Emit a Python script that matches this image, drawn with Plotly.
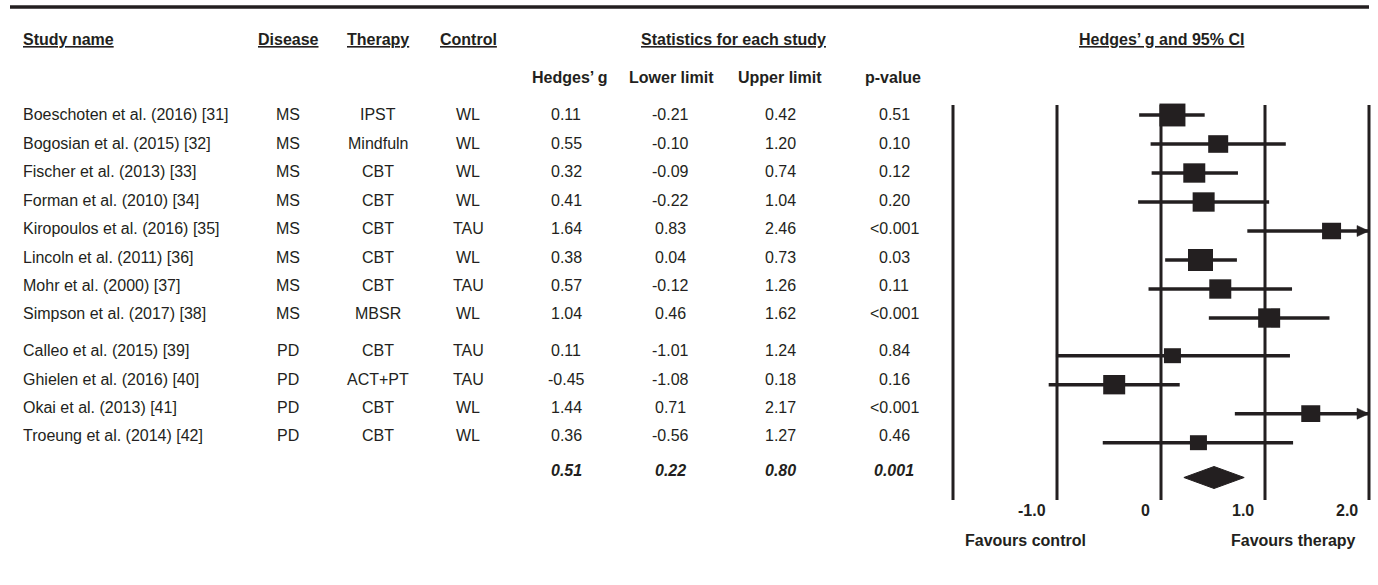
import plotly.graph_objects as go

# ---- study-level data -------------------------------------------------------
studies = [
    "Boeschoten et al. (2016) [31]",
    "Bogosian et al. (2015) [32]",
    "Fischer et al. (2013) [33]",
    "Forman et al. (2010) [34]",
    "Kiropoulos et al. (2016) [35]",
    "Lincoln et al. (2011) [36]",
    "Mohr et al. (2000) [37]",
    "Simpson et al. (2017) [38]",
    "Calleo et al. (2015) [39]",
    "Ghielen et al. (2016) [40]",
    "Okai et al. (2013) [41]",
    "Troeung et al. (2014) [42]",
]
disease = ["MS", "MS", "MS", "MS", "MS", "MS", "MS", "MS", "PD", "PD", "PD", "PD"]
therapy = ["IPST", "Mindfuln", "CBT", "CBT", "CBT", "CBT", "CBT", "MBSR",
           "CBT", "ACT+PT", "CBT", "CBT"]
control = ["WL", "WL", "WL", "WL", "TAU", "WL", "TAU", "WL", "TAU", "TAU", "WL", "WL"]
hedges_g = [0.11, 0.55, 0.32, 0.41, 1.64, 0.38, 0.57, 1.04, 0.11, -0.45, 1.44, 0.36]
lower_limit = [-0.21, -0.10, -0.09, -0.22, 0.83, 0.04, -0.12, 0.46, -1.01, -1.08, 0.71, -0.56]
upper_limit = [0.42, 1.20, 0.74, 1.04, 2.46, 0.73, 1.26, 1.62, 1.24, 0.18, 2.17, 1.27]
p_values = ["0.51", "0.10", "0.12", "0.20", "<0.001", "0.03", "0.11", "<0.001",
            "0.84", "0.16", "<0.001", "0.46"]

# pooled estimate
pooled_g = 0.51
pooled_lower = 0.22
pooled_upper = 0.80
pooled_p = "0.001"

# forest axis
grid_values = [-2, -1, 0, 1, 2]
tick_values = [-1, 0, 1, 2]
tick_labels = ["-1.0", "0", "1.0", "2.0"]

# ---- styling ----------------------------------------------------------------
W, H = 1378, 585
INK = "#231f20"
FONT = "Liberation Sans, Arial, Helvetica, sans-serif"
FS = 16

box_px = [26, 20, 22, 22, 19, 25, 22, 22, 17, 22, 19, 17]   # marker width per study (weight)
BOX_ASPECT = 0.88

X_LO, X_HI = -2.08, 2.08
UNIT_PX = 104.0            # pixels per unit of Hedges' g
ZERO_PX = 1161.0
AXIS_MAX = grid_values[-1]

ROW0_PX = 115.0            # first study row (pixel from top)
PLOT_PITCH = 29.0          # row pitch inside the forest panel
TEXT_PITCH = 28.4          # row pitch of the table text
GROUP_GAP = 0.3            # extra rows between disease groups
SUMMARY_GAP = 1.2


def paper_y(px):
    return 1 - px / H


def paper_x(px):
    return px / W


# row slots (group gap inserted where the disease changes)
slots = []
s = 0.0
for i, d in enumerate(disease):
    if i > 0:
        s += 1.0 + (GROUP_GAP if d != disease[i - 1] else 0.0)
    slots.append(s)
summary_slot = slots[-1] + SUMMARY_GAP


def slot_from_px(px):
    return (px - ROW0_PX) / PLOT_PITCH


def text_px(slot):
    return ROW0_PX + slot * TEXT_PITCH


fig = go.Figure()

# confidence-interval whiskers
ci_x, ci_y = [], []
for lo, up, sl in zip(lower_limit, upper_limit, slots):
    ci_x += [max(lo, -AXIS_MAX), min(up, AXIS_MAX), None]
    ci_y += [sl, sl, None]
fig.add_trace(go.Scatter(x=ci_x, y=ci_y, mode="lines",
                         line=dict(color=INK, width=3.5), hoverinfo="skip",
                         showlegend=False))

# arrowheads for intervals running past the axis limit
arr_len = 12 / UNIT_PX
arr_half = 5.5 / PLOT_PITCH
for up, sl in zip(upper_limit, slots):
    if up > AXIS_MAX:
        fig.add_trace(go.Scatter(
            x=[AXIS_MAX - arr_len, AXIS_MAX, AXIS_MAX - arr_len, AXIS_MAX - arr_len],
            y=[sl - arr_half, sl, sl + arr_half, sl - arr_half],
            mode="lines", fill="toself", fillcolor=INK,
            line=dict(color=INK, width=0.5), hoverinfo="skip", showlegend=False))

# pooled diamond
dh = 11 / PLOT_PITCH
fig.add_trace(go.Scatter(
    x=[pooled_lower, pooled_g, pooled_upper, pooled_g, pooled_lower],
    y=[summary_slot, summary_slot - dh, summary_slot, summary_slot + dh, summary_slot],
    mode="lines", fill="toself", fillcolor=INK,
    line=dict(color=INK, width=1), hoverinfo="skip", showlegend=False))

shapes = []
# vertical reference lines
for v in grid_values:
    shapes.append(dict(type="line", xref="x", yref="y", x0=v, x1=v,
                       y0=slot_from_px(105), y1=slot_from_px(500),
                       line=dict(color=INK, width=3), layer="below"))

# weighted squares for the point estimates
for g, sl, w in zip(hedges_g, slots, box_px):
    hw = w / 2 / UNIT_PX
    hh = w * BOX_ASPECT / 2 / PLOT_PITCH
    shapes.append(dict(type="rect", xref="x", yref="y",
                       x0=g - hw, x1=g + hw, y0=sl - hh, y1=sl + hh,
                       fillcolor=INK, line=dict(width=0), layer="above"))

# rule across the top
shapes.append(dict(type="line", xref="paper", yref="paper",
                   x0=paper_x(10), x1=paper_x(1369), y0=paper_y(7), y1=paper_y(7),
                   line=dict(color=INK, width=3.5)))

annotations = []


def txt(text, x_px, y_px, anchor="center", size=FS):
    annotations.append(dict(text=text, x=paper_x(x_px), y=paper_y(y_px),
                            xref="paper", yref="paper", xanchor=anchor,
                            yanchor="middle", showarrow=False,
                            font=dict(family=FONT, size=size, color=INK)))


# column positions (pixels)
COL_NAME = 21
COL_DIS, COL_THER, COL_CTRL = 288, 378, 468
COL_G, COL_LO, COL_UP, COL_P = 566, 670, 780, 894

# headers
txt("<b><u>Study name</u></b>", COL_NAME, 40, "left")
txt("<b><u>Disease</u></b>", COL_DIS, 40)
txt("<b><u>Therapy</u></b>", COL_THER, 40)
txt("<b><u>Control</u></b>", COL_CTRL, 40)
txt("<b><u>Statistics for each study</u></b>", 733, 40)
txt("<b><u>Hedges’ g and 95% CI</u></b>", 1161, 40)
txt("<b>Hedges’ g</b>", 570, 78)
txt("<b>Lower limit</b>", 671, 78)
txt("<b>Upper limit</b>", 780, 78)
txt("<b>p-value</b>", 893, 78)

# study rows
for i, sl in enumerate(slots):
    y = text_px(sl)
    txt(studies[i], COL_NAME, y, "left")
    txt(disease[i], COL_DIS, y)
    txt(therapy[i], COL_THER, y)
    txt(control[i], COL_CTRL, y)
    txt(f"{hedges_g[i]:.2f}", COL_G, y)
    txt(f"{lower_limit[i]:.2f}", COL_LO, y)
    txt(f"{upper_limit[i]:.2f}", COL_UP, y)
    txt(p_values[i], COL_P, y)

# pooled row
ys = text_px(summary_slot)
txt(f"<b><i>{pooled_g:.2f}</i></b>", COL_G, ys)
txt(f"<b><i>{pooled_lower:.2f}</i></b>", COL_LO, ys)
txt(f"<b><i>{pooled_upper:.2f}</i></b>", COL_UP, ys)
txt(f"<b><i>{pooled_p}</i></b>", COL_P, ys)

# forest axis tick labels, set just left of each reference line
for v, lab in zip(tick_values, tick_labels):
    annotations.append(dict(text=f"<b>{lab}</b>", x=v, y=paper_y(510),
                            xref="x", yref="paper", xanchor="right", yanchor="middle",
                            xshift=-9, showarrow=False,
                            font=dict(family=FONT, size=FS, color=INK)))

txt("<b>Favours control</b>", 963, 540, "left")
txt("<b>Favours therapy</b>", 1358, 540, "right")

x_dom = [(ZERO_PX + X_LO * UNIT_PX) / W, (ZERO_PX + X_HI * UNIT_PX) / W]

fig.update_layout(
    width=W, height=H,
    margin=dict(l=0, r=0, t=0, b=0),
    paper_bgcolor="white", plot_bgcolor="rgba(0,0,0,0)",
    xaxis=dict(domain=x_dom, range=[X_LO, X_HI], visible=False, fixedrange=True),
    yaxis=dict(domain=[0, 1], range=[(H - ROW0_PX) / PLOT_PITCH, -ROW0_PX / PLOT_PITCH],
               visible=False, fixedrange=True),
    shapes=shapes,
    annotations=annotations,
    showlegend=False,
)

fig.write_html("out.html", config={"displayModeBar": False})
